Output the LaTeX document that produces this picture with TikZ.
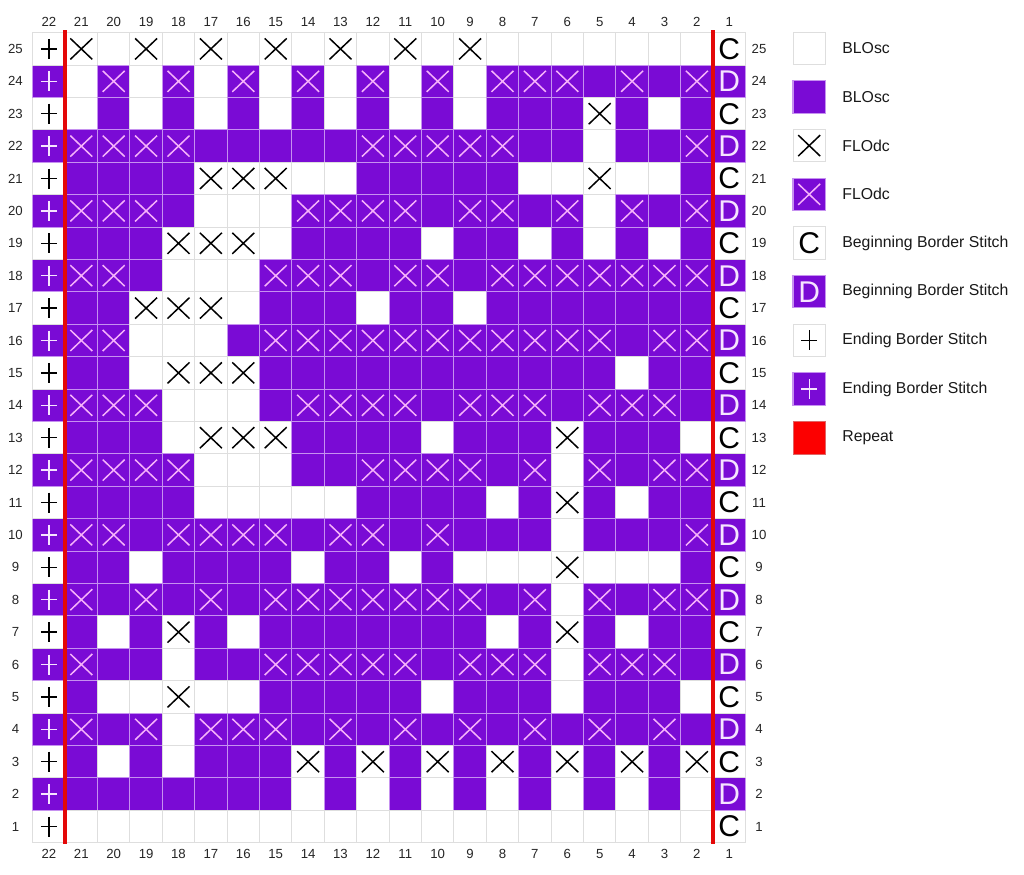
\documentclass[tikz,border=0pt]{standalone}
\usepackage{fontspec}
\setmainfont{Liberation Sans}
\definecolor{pur}{RGB}{122,11,213}
\definecolor{lav}{RGB}{198,145,240}
\definecolor{pinkx}{RGB}{246,178,250}
\definecolor{wsym}{RGB}{246,228,255}
\definecolor{gridgray}{RGB}{222,222,222}
\definecolor{repred}{RGB}{228,8,8}
\definecolor{legred}{RGB}{252,0,0}
\tikzset{
  wcell/.style={fill=white,draw=gridgray,line width=0.5pt},
  pcell/.style={fill=pur,draw=lav,line width=0.55pt},
  xk/.style={line width=0.75pt,draw=black},
  xp/.style={line width=0.75pt,draw=pinkx},
  pk/.style={line width=0.65pt,draw=black},
  pp/.style={line width=0.65pt,draw=wsym},
  lbl/.style={font=\fontsize{6.6}{8}\selectfont,text=black!85,inner sep=0pt},
  leg/.style={font=\fontsize{7.9}{9}\selectfont,anchor=west,inner sep=0pt,text=black!90},
  bigk/.style={font=\fontsize{15}{16}\selectfont,text=black,inner sep=0pt},
  bigw/.style={font=\fontsize{15}{16}\selectfont,text=wsym,inner sep=0pt},
  redline/.style={draw=repred,line width=2pt},
}
\newcommand\mkX[3]{\draw[#3] (#1-11,#2-10.5) -- (#1+11,#2+10.5) (#1-11,#2+10.5) -- (#1+11,#2-10.5);}
\newcommand\mkPlus[3]{\draw[#3] (#1-8,#2) -- (#1+8,#2) (#1,#2-10) -- (#1,#2+10);}
\newcommand\mkCell[3]{\draw[#3] (#1-16.2,#2-16.2) rectangle (#1+16.2,#2+16.2);}
\begin{document}
\begin{tikzpicture}[x=0.5pt,y=-0.5pt]
\useasboundingbox[fill=white] (0,0) rectangle (1024,874);
% inner cells: 0 white, 1 purple, 2 white+X, 3 purple+X ; columns 21..2
\foreach \r/\vals in {
25/{2,0,2,0,2,0,2,0,2,0,2,0,2,0,0,0,0,0,0,0},
24/{0,3,0,3,0,3,0,3,0,3,0,3,0,3,3,3,1,3,1,3},
23/{0,1,0,1,0,1,0,1,0,1,0,1,0,1,1,1,2,1,0,1},
22/{3,3,3,3,1,1,1,1,1,3,3,3,3,3,1,1,0,1,1,3},
21/{1,1,1,1,2,2,2,0,0,1,1,1,1,1,0,0,2,0,0,1},
20/{3,3,3,1,0,0,0,3,3,3,3,1,3,3,1,3,0,3,1,3},
19/{1,1,1,2,2,2,0,1,1,1,1,0,1,1,0,1,0,1,0,1},
18/{3,3,1,0,0,0,3,3,3,1,3,3,1,3,3,3,3,3,3,3},
17/{1,1,2,2,2,0,1,1,1,0,1,1,0,1,1,1,1,1,1,1},
16/{3,3,0,0,0,1,3,3,3,3,3,3,3,3,3,3,3,1,3,3},
15/{1,1,0,2,2,2,1,1,1,1,1,1,1,1,1,1,1,0,1,1},
14/{3,3,3,0,0,0,1,3,3,3,3,1,3,3,3,1,3,3,3,1},
13/{1,1,1,0,2,2,2,1,1,1,1,0,1,1,1,2,1,1,1,0},
12/{3,3,3,3,0,0,0,1,1,3,3,3,3,1,3,0,3,1,3,3},
11/{1,1,1,1,0,0,0,0,0,1,1,1,1,0,1,2,1,0,1,1},
10/{3,3,1,3,3,3,3,1,3,3,1,3,1,1,1,0,1,1,1,3},
9/{1,1,0,1,1,1,1,0,1,1,0,1,0,0,0,2,0,0,0,1},
8/{3,1,3,1,3,1,3,3,3,3,3,3,3,1,3,0,3,1,3,3},
7/{1,0,1,2,1,0,1,1,1,1,1,1,1,0,1,2,1,0,1,1},
6/{3,1,1,0,1,1,3,3,3,3,3,1,3,3,3,0,3,3,3,1},
5/{1,0,0,2,0,0,1,1,1,1,1,0,1,1,1,0,1,1,1,0},
4/{3,1,3,0,3,3,3,1,3,1,3,1,3,1,3,1,3,1,3,1},
3/{1,0,1,0,1,1,1,2,1,2,1,2,1,2,1,2,1,2,1,2},
2/{1,1,1,1,1,1,1,0,1,0,1,0,1,0,1,0,1,0,1,0},
1/{0,0,0,0,0,0,0,0,0,0,0,0,0,0,0,0,0,0,0,0}}{
  \pgfmathsetmacro\cy{32.7+(25-\r+0.5)*32.4}
  \foreach \v [count=\i] in \vals {
    \pgfmathsetmacro\cx{32.7+(\i+0.5)*32.4}
    \ifcase\v\relax
      \mkCell{\cx}{\cy}{wcell}
    \or
      \mkCell{\cx}{\cy}{pcell}
    \or
      \mkCell{\cx}{\cy}{wcell}\mkX{\cx}{\cy}{xk}
    \or
      \mkCell{\cx}{\cy}{pcell}\mkX{\cx}{\cy}{xp}
    \fi
  }
}
% border columns 22 and 1, row labels
\foreach \r in {1,...,25}{
  \pgfmathsetmacro\cy{32.7+(25-\r+0.5)*32.4}
  \ifodd\r
    \mkCell{48.9}{\cy}{wcell}\mkPlus{48.9}{\cy}{pk}
    \mkCell{729.3}{\cy}{wcell}\node[bigk] (c\r) at (729.3,\cy) {C};
  \else
    \mkCell{48.9}{\cy}{pcell}\mkPlus{48.9}{\cy}{pp}
    \mkCell{729.3}{\cy}{pcell}\node[bigw] (c\r) at (729.3,\cy) {D};
  \fi
  \node[lbl] (rl\r) at (15.5,\cy) {\r};
  \node[lbl] (rr\r) at (759,\cy) {\r};
}
% column labels
\foreach \cc in {1,...,22}{
  \pgfmathsetmacro\cx{32.7+(22-\cc+0.5)*32.4}
  \node[lbl] (ct\cc) at (\cx,21.7) {\cc};
  \node[lbl] (cb\cc) at (\cx,854) {\cc};
}
% repeat lines
\draw[redline] (64.6,30) -- (64.6,844);
\draw[redline] (712.6,30) -- (712.6,844);
% legend
\def\lx{809.2}
\pgfmathsetmacro\ya{48.2}
\mkCell{\lx}{\ya}{wcell}
\node[leg] (l1) at (842,\ya) {BLOsc};
\pgfmathsetmacro\ya{48.2+48.7}
\mkCell{\lx}{\ya}{pcell}
\node[leg] (l2) at (842,\ya) {BLOsc};
\pgfmathsetmacro\ya{48.2+2*48.7}
\mkCell{\lx}{\ya}{wcell}\mkX{\lx}{\ya}{xk}
\node[leg] (l3) at (842,\ya) {FLOdc};
\pgfmathsetmacro\ya{48.2+3*48.7}
\mkCell{\lx}{\ya}{pcell}\mkX{\lx}{\ya}{xp}
\node[leg] (l4) at (842,\ya) {FLOdc};
\pgfmathsetmacro\ya{48.2+4*48.7}
\mkCell{\lx}{\ya}{wcell}\node[bigk] (s5) at (\lx,\ya) {C};
\node[leg] (l5) at (842,\ya) {Beginning Border Stitch};
\pgfmathsetmacro\ya{48.2+5*48.7}
\mkCell{\lx}{\ya}{pcell}\node[bigw] (s6) at (\lx,\ya) {D};
\node[leg] (l6) at (842,\ya) {Beginning Border Stitch};
\pgfmathsetmacro\ya{48.2+6*48.7}
\mkCell{\lx}{\ya}{wcell}\mkPlus{\lx}{\ya}{pk}
\node[leg] (l7) at (842,\ya) {Ending Border Stitch};
\pgfmathsetmacro\ya{48.2+7*48.7}
\mkCell{\lx}{\ya}{pcell}\mkPlus{\lx}{\ya}{pp}
\node[leg] (l8) at (842,\ya) {Ending Border Stitch};
\pgfmathsetmacro\ya{48.2+8*48.7}
\draw[fill=legred,draw=legred!80!black!60,line width=0.5pt] (\lx-16.2,\ya-16.2) rectangle (\lx+16.2,\ya+16.2);
\node[leg] (l9) at (842,\ya) {Repeat};
\end{tikzpicture}
\end{document}
